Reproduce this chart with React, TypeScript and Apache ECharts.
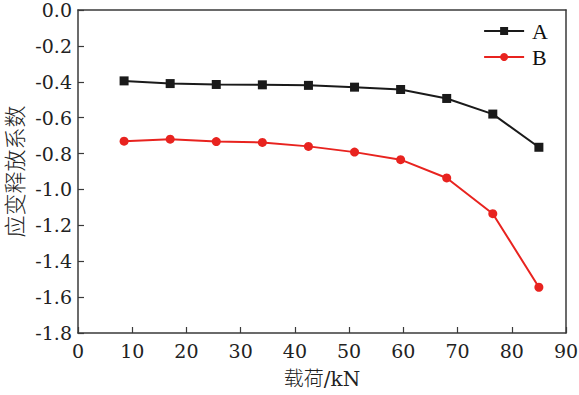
import React, { useEffect, useRef } from "react";
import * as echarts from "echarts";

const loads = [8.5, 17, 25.5, 34, 42.5, 51, 59.5, 68, 76.5, 85];
const seriesA = [-0.395, -0.41, -0.415, -0.417, -0.42, -0.43, -0.443, -0.493, -0.58, -0.765];
const seriesB = [-0.731, -0.72, -0.733, -0.738, -0.76, -0.792, -0.834, -0.936, -1.135, -1.545];
const seriesNames = ["A", "B"];
const xName = "载荷/kN";
const yName = "应变释放系数";

const NUM = "DejaVu Serif";
const LEG = "Liberation Serif";
const CJK = "Noto Sans CJK SC";

export default function App() {
  const ref = useRef<HTMLDivElement>(null);
  useEffect(() => {
    if (!ref.current) return;
    const chart = echarts.init(ref.current, undefined, { renderer: "svg" });
    const axisColor = "#3a3a3a";
    const frameAxis = {
      axisTick: { show: false },
      axisLabel: { show: false },
      splitLine: { show: false },
      axisLine: { show: true, onZero: false, lineStyle: { color: axisColor, width: 1.5 } },
    };
    chart.setOption({
      animation: false,
      backgroundColor: "#ffffff",
      grid: { left: 78, right: 13, top: 10, bottom: 62, containLabel: false, outerBoundsMode: "none" },
      legend: {
        orient: "vertical",
        right: 26,
        top: 15,
        itemWidth: 40,
        itemHeight: 10,
        itemGap: 4,
        textStyle: { fontFamily: LEG, fontSize: 22, lineHeight: 22, color: "#111", padding: [0, 0, 0, 3] },
        data: seriesNames,
      },
      xAxis: [
        {
          type: "value",
          min: 0,
          max: 90,
          interval: 10,
          name: xName,
          nameLocation: "middle",
          nameGap: 36,
          nameTextStyle: { fontFamily: `${NUM}, ${CJK}`, fontSize: 20, fontWeight: 300, color: "#222" },
          axisLine: { show: true, onZero: false, lineStyle: { color: axisColor, width: 1.5 } },
          axisTick: { show: true, inside: true, length: 6, lineStyle: { color: axisColor, width: 1.2 } },
          axisLabel: { fontFamily: NUM, fontSize: 19, color: "#222", margin: 8 },
          splitLine: { show: false },
        },
        { type: "value", position: "top", min: 0, max: 90, ...frameAxis },
      ],
      yAxis: [
        {
          type: "value",
          min: -1.8,
          max: 0,
          interval: 0.2,
          name: yName,
          nameLocation: "middle",
          nameGap: 40,
          nameRotate: 90,
          nameTextStyle: { fontFamily: CJK, fontSize: 22, lineHeight: 22, fontWeight: 300, color: "#222" },
          axisLine: { show: true, onZero: false, lineStyle: { color: axisColor, width: 1.5 } },
          axisTick: { show: true, inside: true, length: 6, lineStyle: { color: axisColor, width: 1.2 } },
          axisLabel: {
            fontFamily: NUM,
            fontSize: 19,
            lineHeight: 18,
            color: "#222",
            margin: 6,
            formatter: (v: number) => (Math.abs(v) < 1e-9 ? "0.0" : v.toFixed(1)),
          },
          splitLine: { show: false },
        },
        { type: "value", position: "right", min: -1.8, max: 0, ...frameAxis },
      ],
      series: [
        {
          name: seriesNames[0],
          type: "line",
          data: loads.map((x, i) => [x, seriesA[i]]),
          symbol: "rect",
          symbolSize: 9,
          itemStyle: { color: "#1a1a1a" },
          lineStyle: { color: "#1a1a1a", width: 2 },
        },
        {
          name: seriesNames[1],
          type: "line",
          data: loads.map((x, i) => [x, seriesB[i]]),
          symbol: "circle",
          symbolSize: 9,
          itemStyle: { color: "#e8231f" },
          lineStyle: { color: "#e8231f", width: 2 },
        },
      ],
    });
    return () => chart.dispose();
  }, []);
  return <div ref={ref} style={{ width: 579, height: 395, position: "absolute", left: 0, top: 0 }} />;
}
